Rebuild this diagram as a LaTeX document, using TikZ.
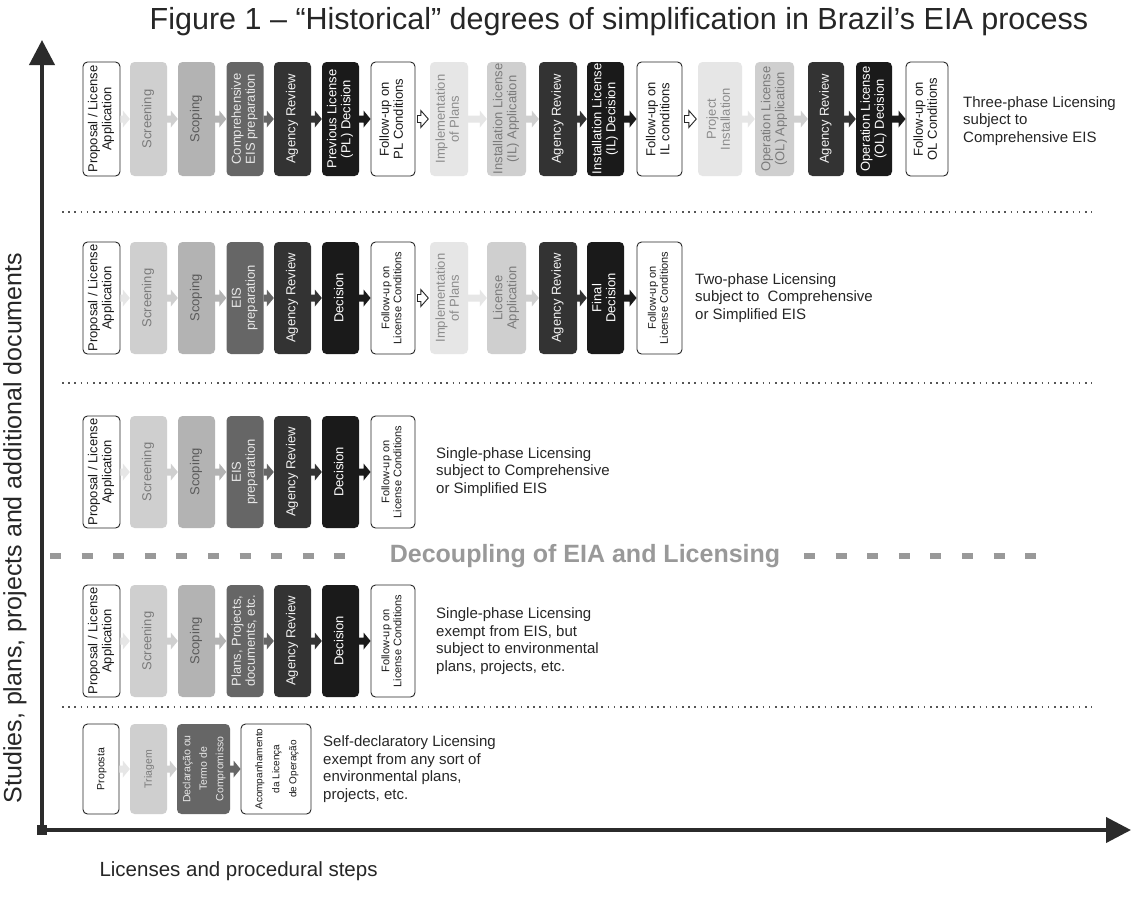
\documentclass[tikz,border=0pt]{standalone}
\usepackage{fontspec}
\setmainfont{Liberation Sans}
\usetikzlibrary{calc,arrows.meta}
\definecolor{ca}{HTML}{E6E6E6}
\definecolor{cb}{HTML}{CFCFCF}
\definecolor{cc}{HTML}{B3B3B3}
\definecolor{cd}{HTML}{666666}
\definecolor{ce}{HTML}{333333}
\definecolor{cf}{HTML}{1A1A1A}
\definecolor{ta}{HTML}{8C8C8C}
\definecolor{tb}{HTML}{7A7A7A}
\definecolor{tc}{HTML}{5A5A5A}
\definecolor{td}{HTML}{E8E8E8}
\definecolor{te}{HTML}{F2F2F2}
\definecolor{axc}{HTML}{2B2B2B}
\definecolor{decc}{HTML}{999999}
\definecolor{dotc}{HTML}{555555}
\tikzset{
  bxb/.style={inner sep=0pt, rounded corners=4.5pt, font=\fontsize{13}{14}\selectfont},
  wb/.style={bxb, draw=black!85, line width=0.9pt, fill=white, text=black!90},
  ga/.style={bxb, fill=ca, text=ta},
  gb/.style={bxb, fill=cb, text=tb},
  gc/.style={bxb, fill=cc, text=tc},
  gd/.style={bxb, fill=cd, text=td},
  ge/.style={bxb, fill=ce, text=te},
  gf/.style={bxb, fill=cf, text=white},
  r1/.style={minimum height=114pt},
  r2/.style={minimum height=112pt},
  r5/.style={minimum height=90pt, font=\fontsize{10.5}{16.5}\selectfont},
  sm/.style={font=\fontsize{11}{12}\selectfont},
  desc/.style={anchor=west, align=left, font=\fontsize{15}{17.5}\selectfont, text=black!85, inner sep=0pt},
  sepline/.style={dotc, line width=1.1pt, dash pattern=on 1.6pt off 4.6pt},
  decdash/.style={decc, line width=6pt, dash pattern=on 11pt off 20.6pt},
  axis/.style={axc, line width=4pt, -{Triangle[length=25pt,width=25pt]}},
}
\newcommand\bt[1]{\rotatebox{90}{\begin{tabular}{@{}c@{}}#1\end{tabular}}}
\newcommand\fa[3]{\fill[#3] ($(#1.east)+(0,-3.5)$) -- ($(#2.west)+(-7,-3.5)$) -- ($(#2.west)+(-7,-8.5)$) -- (#2.west) -- ($(#2.west)+(-7,8.5)$) -- ($(#2.west)+(-7,3.5)$) -- ($(#1.east)+(0,3.5)$) -- cycle;}
\newcommand\ha[2]{\draw[draw=black!85, fill=white, line width=0.9pt] ($(#1.east)+(2,-3.5)$) -- ($(#2.west)+(-9,-3.5)$) -- ($(#2.west)+(-9,-8.5)$) -- ($(#2.west)+(-1.5,0)$) -- ($(#2.west)+(-9,8.5)$) -- ($(#2.west)+(-9,3.5)$) -- ($(#1.east)+(2,3.5)$) -- cycle;}
\begin{document}
\begin{tikzpicture}[x=1pt,y=-1pt]
\fill[white] (0,0) rectangle (1134,898);
\useasboundingbox (0,0) rectangle (1134,898);

% title
\node[font=\fontsize{30.5}{34}\selectfont, text=black!85] (title) at (619,22) {Figure 1 – “Historical” degrees of simplification in Brazil’s EIA process};

% axes
\coordinate (O) at (42,830);
\coordinate (Ytop) at (42,40);
\coordinate (Xend) at (1131,830);
\draw[axis] (O) -- (Ytop);
\draw[axis] (O) -- (Xend);
\node[fill=axc, minimum size=10pt, inner sep=0pt] (org) at (O) {};
\node[rotate=90, font=\fontsize{25}{29}\selectfont, text=black!85] (ylab) at (15,528) {Studies, plans, projects and additional documents};
\node[anchor=west, font=\fontsize{20.5}{24}\selectfont, text=black!85] (xlab) at (96,871) {Licenses and procedural steps};

% separators
\draw[sepline] (62,212) -- (1092,212);
\draw[sepline] (62,383) -- (1092,383);
\draw[sepline] (62,707) -- (1092,707);
\node[font=\bfseries\fontsize{25}{29}\selectfont, text=decc] (dec) at (585,556) {Decoupling of EIA and Licensing};
\draw[decdash] (50,556) -- (346,556);
\draw[decdash] (804,556) -- (1037,556);

% ---------- Row 1 ----------
\node[wb, r1, minimum width=37pt] (a1) at (101.5,119) {\bt{Proposal / License\\Application}};
\node[gb, r1, minimum width=37pt] (a2) at (148.5,119) {\bt{Screening}};
\node[gc, r1, minimum width=37pt] (a3) at (196.5,119) {\bt{Scoping}};
\node[gd, r1, minimum width=37pt] (a4) at (245,119) {\bt{Comprehensive\\EIS preparation}};
\node[ge, r1, minimum width=37pt] (a5) at (292.5,119) {\bt{Agency Review}};
\node[gf, r1, minimum width=37pt] (a6) at (340.5,119) {\bt{Previous License\\(PL) Decision}};
\node[wb, r1, minimum width=44pt] (a7) at (393,119) {\bt{Follow-up on\\PL Conditions}};
\node[ga, r1, minimum width=38pt] (a8) at (449,119) {\bt{Implementation\\of Plans}};
\node[gb, r1, minimum width=39pt] (a9) at (506.5,119) {\bt{Installation License\\(IL) Application}};
\node[ge, r1, minimum width=38pt] (a10) at (558,119) {\bt{Agency Review}};
\node[gf, r1, minimum width=37pt] (a11) at (605.5,119) {\bt{Installation License\\(IL) Decision}};
\node[wb, r1, minimum width=45pt] (a12) at (659.5,119) {\bt{Follow-up on\\IL conditions}};
\node[ga, r1, minimum width=44pt] (a13) at (720,119) {\bt{Project\\Installation}};
\node[gb, r1, minimum width=39pt] (a14) at (774.5,119) {\bt{Operation License\\(OL) Application}};
\node[ge, r1, minimum width=36pt] (a15) at (826,119) {\bt{Agency Review}};
\node[gf, r1, minimum width=36pt] (a16) at (874,119) {\bt{Operation License\\(OL) Decision}};
\node[wb, r1, minimum width=42pt] (a17) at (927,119) {\bt{Follow-up on\\OL Conditions}};
\node[desc] (ta) at (963,121) {Three-phase Licensing\\subject to\\Comprehensive EIS};
\fa{a1}{a2}{ca}\fa{a2}{a3}{cb}\fa{a3}{a4}{cc}\fa{a4}{a5}{cd}\fa{a5}{a6}{ce}\fa{a6}{a7}{cf}
\ha{a7}{a8}
\fa{a8}{a9}{ca}\fa{a9}{a10}{cb}\fa{a10}{a11}{ce}\fa{a11}{a12}{cf}
\ha{a12}{a13}
\fa{a13}{a14}{ca}\fa{a14}{a15}{cb}\fa{a15}{a16}{ce}\fa{a16}{a17}{cf}

% ---------- Row 2 ----------
\node[wb, r2, minimum width=37pt] (b1) at (101.5,298) {\bt{Proposal / License\\Application}};
\node[gb, r2, minimum width=37pt] (b2) at (148.5,298) {\bt{Screening}};
\node[gc, r2, minimum width=37pt] (b3) at (196.5,298) {\bt{Scoping}};
\node[gd, r2, minimum width=37pt] (b4) at (245,298) {\bt{EIS\\preparation}};
\node[ge, r2, minimum width=37pt] (b5) at (292.5,298) {\bt{Agency Review}};
\node[gf, r2, minimum width=37pt] (b6) at (340.5,298) {\bt{Decision}};
\node[wb, r2, sm, minimum width=44pt] (b7) at (393,298) {\bt{Follow-up on\\License Conditions}};
\node[ga, r2, minimum width=38pt] (b8) at (449,298) {\bt{Implementation\\of Plans}};
\node[gb, r2, minimum width=39pt] (b9) at (506.5,298) {\bt{License\\Application}};
\node[ge, r2, minimum width=38pt] (b10) at (558,298) {\bt{Agency Review}};
\node[gf, r2, minimum width=37pt] (b11) at (605.5,298) {\bt{Final\\Decision}};
\node[wb, r2, sm, minimum width=45pt] (b12) at (659.5,298) {\bt{Follow-up on\\License Conditions}};
\node[desc] (tb) at (695,298) {Two-phase Licensing\\subject to\ \ Comprehensive\\or Simplified EIS};
\fa{b1}{b2}{ca}\fa{b2}{b3}{cb}\fa{b3}{b4}{cc}\fa{b4}{b5}{cd}\fa{b5}{b6}{ce}\fa{b6}{b7}{cf}
\ha{b7}{b8}
\fa{b8}{b9}{ca}\fa{b9}{b10}{cb}\fa{b10}{b11}{ce}\fa{b11}{b12}{cf}

% ---------- Row 3 ----------
\node[wb, r2, minimum width=37pt] (c1) at (101.5,472) {\bt{Proposal / License\\Application}};
\node[gb, r2, minimum width=37pt] (c2) at (148.5,472) {\bt{Screening}};
\node[gc, r2, minimum width=37pt] (c3) at (196.5,472) {\bt{Scoping}};
\node[gd, r2, minimum width=37pt] (c4) at (245,472) {\bt{EIS\\preparation}};
\node[ge, r2, minimum width=37pt] (c5) at (292.5,472) {\bt{Agency Review}};
\node[gf, r2, minimum width=37pt] (c6) at (340.5,472) {\bt{Decision}};
\node[wb, r2, sm, minimum width=44pt] (c7) at (393,472) {\bt{Follow-up on\\License Conditions}};
\node[desc] (tc) at (436,472) {Single-phase Licensing\\subject to Comprehensive\\or Simplified EIS};
\fa{c1}{c2}{ca}\fa{c2}{c3}{cb}\fa{c3}{c4}{cc}\fa{c4}{c5}{cd}\fa{c5}{c6}{ce}\fa{c6}{c7}{cf}

% ---------- Row 4 ----------
\node[wb, r2, minimum width=37pt] (d1) at (101.5,641) {\bt{Proposal / License\\Application}};
\node[gb, r2, minimum width=37pt] (d2) at (148.5,641) {\bt{Screening}};
\node[gc, r2, minimum width=37pt] (d3) at (196.5,641) {\bt{Scoping}};
\node[gd, r2, minimum width=37pt] (d4) at (245,641) {\bt{Plans, Projects,\\documents, etc.}};
\node[ge, r2, minimum width=37pt] (d5) at (292.5,641) {\bt{Agency Review}};
\node[gf, r2, minimum width=37pt] (d6) at (340.5,641) {\bt{Decision}};
\node[wb, r2, sm, minimum width=44pt] (d7) at (393,641) {\bt{Follow-up on\\License Conditions}};
\node[desc] (td) at (436,641) {Single-phase Licensing\\exempt from EIS, but\\subject to environmental\\plans, projects, etc.};
\fa{d1}{d2}{ca}\fa{d2}{d3}{cb}\fa{d3}{d4}{cc}\fa{d4}{d5}{cd}\fa{d5}{d6}{ce}\fa{d6}{d7}{cf}

% ---------- Row 5 ----------
\node[wb, r5, minimum width=36pt] (e1) at (101,769) {\bt{Proposta}};
\node[gb, r5, minimum width=37pt] (e2) at (148.5,769) {\bt{Triagem}};
\node[gd, r5, minimum width=53pt] (e3) at (203.5,769) {\bt{Declaração ou\\Termo de\\Compromisso}};
\node[wb, r5, minimum width=70pt, font=\fontsize{10}{17}\selectfont] (e4) at (276,769) {\bt{Acompanhamento\\da Licença\\de Operação}};
\node[desc] (te) at (323,769) {Self-declaratory Licensing\\exempt from any sort of\\environmental plans,\\projects, etc.};
\fa{e1}{e2}{ca}\fa{e2}{e3}{cb}\fa{e3}{e4}{cd}
\end{tikzpicture}
\end{document}
